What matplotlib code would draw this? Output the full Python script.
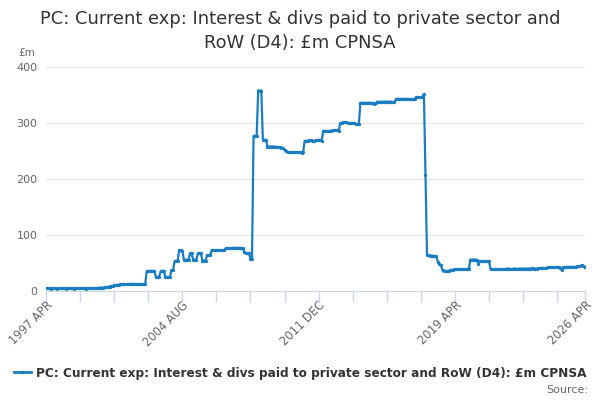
import matplotlib
matplotlib.use("Agg")
import matplotlib.pyplot as plt
from matplotlib.lines import Line2D

plt.rcParams['font.family'] = ['DejaVu Sans']

# monthly values, 1997 APR .. 2026 APR (one row = 12 months)
values = [
    5, 5, 5, 4, 5, 5, 5, 4, 5, 5, 5, 5,
    5, 4, 5, 5, 5, 5, 4, 5, 5, 5, 5, 5,
    5, 5, 4, 5, 5, 5, 5, 5, 5, 5, 6, 6,
    6, 6, 7, 7, 7, 8, 9, 9, 10, 10, 11, 11,
    12, 12, 12, 12, 12, 12, 12, 12, 13, 12, 12, 12,
    12, 12, 12, 12, 12, 35, 36, 36, 36, 36, 35, 25,
    25, 25, 35, 36, 36, 25, 25, 25, 25, 37, 37, 53,
    54, 54, 73, 73, 72, 56, 56, 56, 56, 67, 67, 56,
    56, 56, 67, 67, 67, 54, 54, 54, 64, 64, 64, 73,
    73, 73, 73, 73, 73, 73, 73, 73, 76, 76, 76, 76,
    76, 77, 77, 77, 77, 77, 77, 76, 70, 67, 67, 67,
    58, 58, 277, 277, 277, 358, 358, 358, 270, 270, 270, 258,
    258, 258, 258, 258, 258, 257, 257, 257, 256, 255, 252, 250,
    248, 248, 248, 248, 248, 248, 248, 248, 248, 247, 248, 268,
    268, 268, 269, 269, 268, 268, 269, 269, 269, 270, 268, 286,
    286, 285, 285, 286, 286, 287, 287, 287, 287, 286, 300, 300,
    301, 301, 301, 300, 300, 300, 300, 300, 298, 298, 299, 336,
    336, 336, 336, 336, 336, 336, 336, 335, 334, 336, 338, 338,
    338, 338, 338, 338, 338, 338, 338, 338, 337, 337, 343, 343,
    343, 343, 343, 343, 343, 343, 343, 342, 342, 342, 342, 346,
    346, 346, 346, 346, 352, 207, 64, 64, 63, 63, 63, 62,
    62, 52, 48, 46, 37, 36, 35, 35, 36, 37, 38, 38,
    39, 39, 39, 39, 39, 39, 39, 39, 39, 39, 56, 56,
    56, 56, 56, 49, 53, 53, 53, 53, 53, 53, 53, 39,
    39, 39, 39, 39, 39, 39, 39, 39, 39, 39, 40, 40,
    39, 39, 40, 40, 39, 40, 40, 40, 40, 40, 40, 40,
    40, 40, 41, 40, 40, 40, 41, 41, 41, 41, 41, 41,
    42, 42, 42, 42, 42, 42, 42, 42, 41, 37, 42, 43,
    43, 43, 43, 43, 43, 43, 43, 44, 44, 45, 46, 45,
    42,
]
months = list(range(len(values)))

tick_labels = ['1997 APR', '2004 AUG', '2011 DEC', '2019 APR', '2026 APR']
label_pos = [0, 88, 176, 264, 348]
minor_pos = list(range(0, 331, 22)) + [348]
y_ticks = [0, 100, 200, 300, 400]

series_name = 'PC: Current exp: Interest & divs paid to private sector and RoW (D4): £m CPNSA'
blue = '#1a7dc2'

fig = plt.figure(figsize=(6, 4), dpi=100)
ax = fig.add_axes([0.0767, 0.2725, 0.8983, 0.56])

ax.plot(months, values, color=blue, lw=1.6, marker='o', ms=2.4, mew=0)

ax.set_xlim(0, 348)
ax.set_ylim(0, 400)
ax.set_yticks(y_ticks)
ax.set_yticklabels([str(v) for v in y_ticks], color='#666666', fontsize=8)
ax.tick_params(axis='y', length=0, pad=6)
ax.grid(axis='y', color='#e6e6e6', lw=1)
ax.set_axisbelow(True)

# ticks every 22 months, labels on every 4th
ax.set_xticks(minor_pos)
ax.set_xticklabels(['' for p in minor_pos])
ax.tick_params(axis='x', length=8, color='#ccd6eb', width=1)
for p, lab in zip(label_pos, tick_labels):
    ax.text(p, -14, lab, rotation=45, ha='right', va='top', fontsize=8.3,
            color='#666666', rotation_mode='anchor')

for s in ['top', 'right', 'left']:
    ax.spines[s].set_visible(False)
ax.spines['bottom'].set_color('#ccd6eb')

fig.text(0.5, 1 - 31 / 400, 'PC: Current exp: Interest & divs paid to private sector and\nRoW (D4): £m CPNSA',
         ha='center', va='center', fontsize=12.9, color='#333333', linespacing=1.4)
fig.text(0.03, 1 - 53 / 400, '£m', fontsize=7.5, color='#666666', va='center', ha='left')

handle = Line2D([0], [0], color=blue, lw=2, marker='o', ms=2.5, mew=0)
fig.legend([handle], [series_name], loc='center', bbox_to_anchor=(0.5, 1 - 373 / 400),
           frameon=False, prop={'weight': 'bold', 'size': 8.7}, handlelength=1.4,
           handletextpad=0.4, labelcolor='#333333')
fig.text(0.98, 1 - 390 / 400, 'Source:', ha='right', va='center', fontsize=8, color='#666666')

fig.savefig('out.png', dpi=100)
